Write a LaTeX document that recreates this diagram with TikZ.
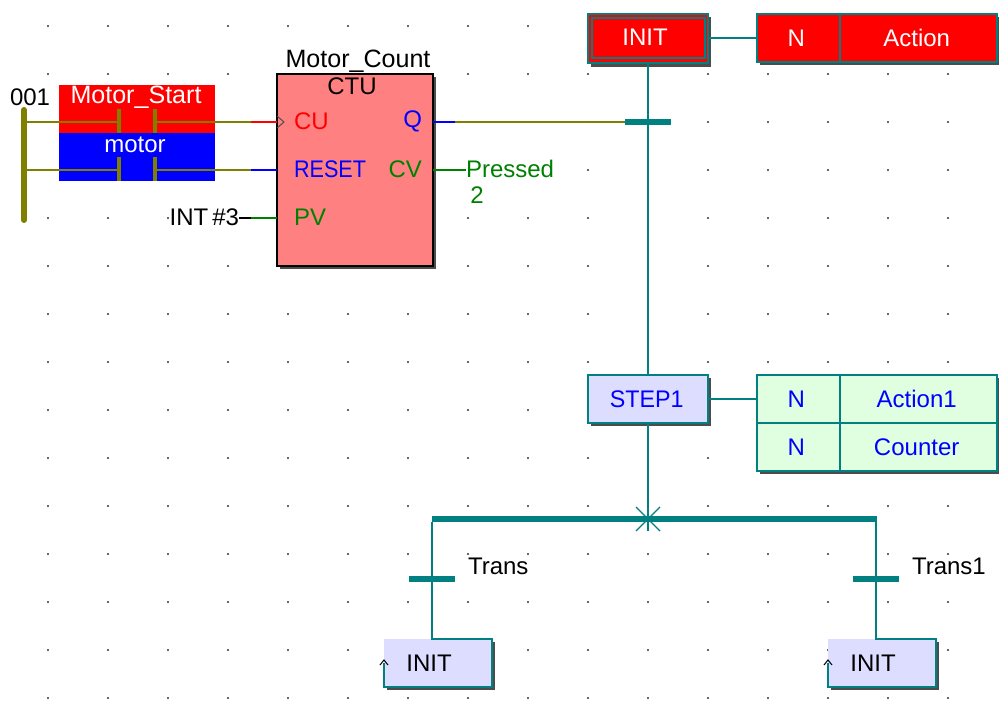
\documentclass[tikz,border=0pt]{standalone}
\usepackage{fontspec}
\setmainfont{Liberation Sans}
\usetikzlibrary{shadows}
\definecolor{sfcteal}{RGB}{0,128,128}
\definecolor{ldolive}{RGB}{128,128,0}
\definecolor{fbpink}{RGB}{255,128,128}
\definecolor{steplilac}{RGB}{221,221,255}
\definecolor{actgreen}{RGB}{224,255,224}
\definecolor{pingreen}{RGB}{0,128,0}
\tikzset{
  every node/.style={inner sep=0pt, outer sep=0pt, font=\fontsize{18}{20}\selectfont},
  bigname/.style={font=\fontsize{18.8}{20}\selectfont},
  boxshadow/.style={general shadow={shadow xshift=2.5pt, shadow yshift=-2.5pt, fill=black!70}},
  stepbox/.style={draw=sfcteal, line width=1.7pt, fill=steplilac, boxshadow, minimum width=90pt, minimum height=36pt, anchor=north west},
  actcell/.style={draw=sfcteal, line width=1.5pt, minimum height=36pt, anchor=north west, execute at begin node={\hspace*{-3pt}}},
  actframe/.style={draw=sfcteal, line width=1.7pt, boxshadow, minimum width=180pt, anchor=north west},
  contactbox/.style={minimum width=117pt, minimum height=36pt, anchor=north west},
  transbar/.style={fill=sfcteal, minimum width=35pt, minimum height=4pt},
  sfcwire/.style={draw=sfcteal, line width=1.7pt},
  ldwire/.style={draw=ldolive, line width=1.7pt},
  txtlabel/.style={fill=white}
}
\begin{document}
\begin{tikzpicture}[x=0.75pt, y=-0.75pt]
  \useasboundingbox (0,0) rectangle (999,702);
  % dot grid
  \foreach \xx in {48,108,...,948}
    \foreach \yy in {26,74,...,698}
      \fill[black!80] (\xx,\yy) circle (0.8pt);

  % ladder rung contacts
  \node [contactbox, fill=red] (mstart) at (59,85) {};
  \node [contactbox, fill=blue] (motor) at (59,133) {};
  \node [bigname, text=white] (mstarttxt) at (136,97) {Motor\_Start};
  \node [text=white] (motortxt) at (135,145) {motor};
  \node [txtlabel, anchor=west] (rungno) at (10,97) {001};

  % function block
  \node [draw=black, line width=1.7pt, fill=fbpink, boxshadow, minimum width=117pt, minimum height=144pt, anchor=north west] (fb) at (277,74) {};
  \node [bigname] (fbname) at (358,61) {Motor\_Count};
  \node (fbtype) at (352,86) {CTU};
  \node [text=red, anchor=west] (cu) at (294,121) {CU};
  \node [text=blue, anchor=west, xscale=0.9] (reset) at (294,169) {RESET};
  \node [text=pingreen, anchor=west] (pv) at (294,217) {PV};
  \node [text=blue, anchor=east] (q) at (422,121) {Q};
  \node [text=pingreen, anchor=east] (cv) at (422,169) {CV};

  \coordinate (railtop) at (24,110);
  \coordinate (railbot) at (24,220);
  \coordinate (rung1) at (24,122);
  \coordinate (rung2) at (24,170);
  \coordinate (ca1) at (119,122);
  \coordinate (cb1) at (155,122);
  \coordinate (ca2) at (119,170);
  \coordinate (cb2) at (155,170);
  \coordinate (pin1) at (251,122);
  \coordinate (pin2) at (251,170);
  \coordinate (pin3) at (251,218);
  \coordinate (qend) at (455,122);

  \draw [ldwire, line width=4.5pt, line cap=round] (railtop) -- (railbot);
  \draw [ldwire] (rung1) -- (ca1);
  \draw [ldwire] (cb1) -- (pin1);
  \draw [ldwire] (rung2) -- (ca2);
  \draw [ldwire] (cb2) -- (pin2);
  \draw [ldolive, line width=2.8pt] (119,109) -- (119,133);
  \draw [ldolive, line width=2.8pt] (155,109) -- (155,133);
  \draw [ldolive, line width=2.8pt] (119,157) -- (119,181);
  \draw [ldolive, line width=2.8pt] (155,157) -- (155,181);
  \draw [red, line width=1.5pt] (pin1) -- (fb.west |- pin1);
  \draw [black!70, line width=0.7pt] (277,116) -- (284,122) -- (277,128);
  \draw [blue, line width=1.5pt] (pin2) -- (fb.west |- pin2);
  \draw [pingreen, line width=1.5pt] (pin3) -- (fb.west |- pin3);

  \node [txtlabel, anchor=east] (intval) at (239,217) {INT\,\#3};
  \draw [black, line width=1.5pt] (intval.east |- pin3) -- (pin3);

  \node [txtlabel, text=pingreen, anchor=west] (pressed) at (466,169) {Pressed};
  \node [text=pingreen] (pressedval) at (477,195) {2};
  \draw [pingreen, line width=1.5pt] (fb.east |- pin2) -- (pressed.west |- pin2);
  \draw [blue, line width=1.5pt] (fb.east |- qend) -- (qend);

  % sfc steps
  \node [stepbox, fill=red, minimum height=37pt] (init) at (588,14) {};
  \node [text=white] (inittxt) at (645,37) {INIT};
  \draw [sfcwire, line width=1.5pt] (591.5,18) rectangle (704.5,58);

  \node [actframe, fill=red, minimum height=36pt] (act0) at (757,14) {};
  \node [actcell, minimum width=62pt, text=white] (act0n) at (757,14) {N};
  \node [actcell, minimum width=118pt, text=white] (act0a) at (840,14) {Action};
  \draw [sfcwire] (init.east |- act0.west) -- (act0.west);

  \node [stepbox, text=blue] (step1) at (588,375) {\hspace*{-2pt}\scalebox{0.97}[1]{STEP1}};
  \node [actframe, fill=actgreen, minimum height=72pt] (act1) at (757,375) {};
  \node [actcell, minimum width=62pt, text=blue] (act1n) at (757,375) {N};
  \node [actcell, minimum width=118pt, text=blue] (act1a) at (840,375) {Action1};
  \node [actcell, minimum width=62pt, text=blue] (act2n) at (757,423) {N};
  \node [actcell, minimum width=118pt, text=blue] (act2a) at (840,423) {Counter};
  \draw [sfcwire] (step1.east |- act1n.west) -- (act1n.west);

  % transition and divergence
  \coordinate (stem) at (648,63);
  \coordinate (star) at (648,519);
  \node [transbar] (tr0) at (648,122) {};
  \node [transbar, minimum width=334pt] (div) at (654.5,519) {};
  \draw [sfcwire] (stem) -- (stem |- step1.north);
  \draw [sfcwire] (stem |- step1.south) -- (star);
  \draw [ldwire] (qend) -- (tr0.west);
  \draw [sfcwire, line width=1pt] (636,507) -- (660,531);
  \draw [sfcwire, line width=1pt] (660,507) -- (636,531);
  \draw [sfcwire, line width=1pt] (star) -- (648,531);

  \node [stepbox, draw=none, minimum width=81pt] (ret1) at (384,639) {\hspace*{-13.5pt}INIT};
  \node [stepbox, draw=none, minimum width=81pt] (ret2) at (828,639) {\hspace*{-13.5pt}INIT};
  \node [transbar] (tr1) at (432,579) {};
  \node [transbar] (tr2) at (876,579) {};
  \node [txtlabel, anchor=west] (tr1txt) at (468,566) {Trans};
  \node [txtlabel, anchor=west] (tr2txt) at (912,566) {Trans1};

  \draw [sfcwire] (tr1 |- div.south) -- (tr1 |- ret1.north) -- (ret1.north east) -- (ret1.south east)
        -- (ret1.south west) -- (ret1.west);
  \draw [sfcwire] (tr2 |- div.south) -- (tr2 |- ret2.north) -- (ret2.north east) -- (ret2.south east)
        -- (ret2.south west) -- (ret2.west);
  \draw [black, line width=0.8pt] (380,665) -- (384,660) -- (388,665);
  \draw [black, line width=0.8pt] (824,665) -- (828,660) -- (832,665);
\end{tikzpicture}
\end{document}
